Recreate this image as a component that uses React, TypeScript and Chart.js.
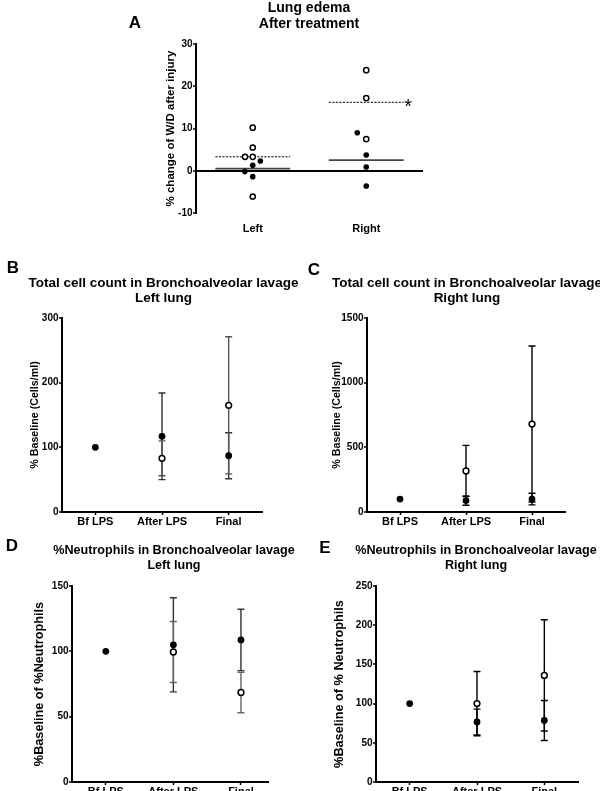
import React, { useEffect, useRef } from 'react';
import { Chart, registerables } from 'chart.js';

Chart.register(...registerables);

const FONT = 'Arial, "Liberation Sans", Helvetica, sans-serif';
const PAGE_W = 600;
const PAGE_H = 791;

// ---------- Panel A: lung edema ----------
const edemaCategories = ['Left', 'Right'];
const edemaLeftOpen = [10.2, 5.5, 3.3, 3.3, -6.1];
const edemaLeftOpenJitter = [0, 0, -0.068, 0, 0];
const edemaLeftFilled = [2.3, 1.3, -0.2, -1.4];
const edemaLeftFilledJitter = [0.067, 0, -0.07, 0];
const edemaRightOpen = [23.8, 17.2, 7.5];
const edemaRightOpenJitter = [0, 0, 0];
const edemaRightFilled = [9.0, 3.7, 0.9, -3.6];
const edemaRightFilledJitter = [-0.079, 0, 0, 0];
const edemaOpenMeans = [3.3, 16.2];
const edemaFilledMeans = [0.5, 2.5];
const edemaSignificance = ['', '*'];

// ---------- Time-course panels ----------
const timeCategories = ['Bf LPS', 'After LPS', 'Final'];

// B: total cell count, left lung
const cellLeftFilled = [100, 117, 87];
const cellLeftFilledErr = [0, 67, 35.5];
const cellLeftOpen = [null, 83, 165];
const cellLeftOpenErr = [null, 27, 106];

// C: total cell count, right lung
const cellRightFilled = [100, 88, 100];
const cellRightFilledErr = [0, 36, 45];
const cellRightOpen = [null, 317, 680];
const cellRightOpenErr = [null, 198, 603];

// D: neutrophils, left lung
const neutLeftFilled = [100, 105, 108.7];
const neutLeftFilledErr = [0, 36, 23.5];
const neutLeftOpen = [null, 99.5, 68.5];
const neutLeftOpenErr = [null, 23.3, 15.5];

// E: neutrophils, right lung
const neutRightFilled = [100, 76.5, 78.5];
const neutRightFilledErr = [0, 16.5, 25.5];
const neutRightOpen = [null, 100, 136];
const neutRightOpenErr = [null, 41, 71];

type Area = { left: number; top: number; right: number; bottom: number };

interface PanelSpec {
  area: Area;
  yTitle: string;
  yTitleX: number;
  yTitleSize: number;
  yMin: number;
  yMax: number;
  yStep: number;
  xMin: number;
  xMax: number;
  categories: string[];
  xLabelPadding: number;
  xAxisLine: boolean;
  zeroLine: boolean;
  datasets: any[];
  plugins: any[];
}

function buildConfig(p: PanelSpec): any {
  const lh = p.yTitleSize * 1.2;
  const padLeft = p.yTitleX - lh / 2;
  const yWidth = p.area.left - padLeft;
  const xHeight = PAGE_H - p.area.bottom;
  return {
    type: 'scatter',
    data: { datasets: p.datasets },
    plugins: p.plugins,
    options: {
      animation: false,
      responsive: false,
      events: [],
      layout: {
        padding: { left: padLeft, top: p.area.top, right: PAGE_W - p.area.right, bottom: 0 },
      },
      plugins: { legend: { display: false }, tooltip: { enabled: false }, title: { display: false } },
      scales: {
        x: {
          type: 'linear',
          min: p.xMin,
          max: p.xMax,
          afterBuildTicks: (s: any) => {
            s.ticks = p.categories.map((_, i) => ({ value: i }));
          },
          afterFit: (s: any) => {
            s.height = xHeight;
          },
          ticks: {
            callback: (v: any) => p.categories[v] ?? '',
            font: { family: FONT, size: 11, weight: 'bold' },
            color: '#000',
            padding: p.xLabelPadding,
            maxRotation: 0,
            minRotation: 0,
            autoSkip: false,
          },
          grid: {
            display: p.xAxisLine,
            drawOnChartArea: false,
            drawTicks: p.xAxisLine,
            tickLength: 3,
            tickColor: '#000',
            tickWidth: 1.5,
          },
          border: { display: p.xAxisLine, color: '#000', width: 2 },
        },
        y: {
          type: 'linear',
          min: p.yMin,
          max: p.yMax,
          afterFit: (s: any) => {
            s.width = yWidth;
          },
          ticks: {
            stepSize: p.yStep,
            callback: (v: any) => String(v),
            font: { family: FONT, size: 10, weight: 'bold' },
            color: '#000',
            padding: 0.5,
          },
          grid: {
            drawOnChartArea: p.zeroLine,
            drawTicks: true,
            tickLength: 3,
            tickColor: '#000',
            tickWidth: 1.5,
            lineWidth: 2,
            color: (ctx: any) => (ctx.tick && ctx.tick.value === 0 ? '#000' : 'rgba(0,0,0,0)'),
          },
          border: { display: true, color: '#000', width: 2 },
          title: {
            display: true,
            text: p.yTitle,
            font: { family: FONT, size: p.yTitleSize, weight: 'bold' },
            color: '#000',
            padding: 0,
          },
        },
      },
    },
  };
}

const openStyle = (r: number) => ({
  pointRadius: r,
  pointHoverRadius: r,
  pointBackgroundColor: '#fff',
  pointBorderColor: '#000',
  pointBorderWidth: 1.5,
  showLine: false,
});
const filledStyle = (r: number) => ({
  pointRadius: r,
  pointHoverRadius: r,
  pointBackgroundColor: '#000',
  pointBorderColor: '#000',
  pointBorderWidth: 0,
  showLine: false,
});

function errorBarsPlugin(
  bars: { means: (number | null)[]; errs: (number | null)[]; color: string }[]
) {
  return {
    id: 'errorBars',
    beforeDatasetsDraw(chart: any) {
      const { ctx } = chart;
      const x = chart.scales.x;
      const y = chart.scales.y;
      ctx.save();
      ctx.lineWidth = 1.4;
      bars.forEach((b) => {
        ctx.strokeStyle = b.color;
        b.means.forEach((m, i) => {
          const e = b.errs[i];
          if (m == null || e == null || e === 0) return;
          const px = x.getPixelForValue(i);
          const top = y.getPixelForValue(m + e);
          const bot = y.getPixelForValue(m - e);
          ctx.beginPath();
          ctx.moveTo(px, top);
          ctx.lineTo(px, bot);
          ctx.moveTo(px - 3.5, top);
          ctx.lineTo(px + 3.5, top);
          ctx.moveTo(px - 3.5, bot);
          ctx.lineTo(px + 3.5, bot);
          ctx.stroke();
        });
      });
      ctx.restore();
    },
  };
}

function timeDatasets(filled: (number | null)[], open: (number | null)[]) {
  const toPts = (vals: (number | null)[]) =>
    vals.map((y, i) => (y == null ? null : { x: i, y })).filter((d) => d !== null);
  return [
    { type: 'scatter', data: toPts(open), ...openStyle(2.9) },
    { type: 'scatter', data: toPts(filled), ...filledStyle(3.4) },
  ];
}

function edemaConfig() {
  const pts = (vals: number[], jit: number[], cat: number) =>
    vals.map((y, k) => ({ x: cat + jit[k], y }));
  const meanLine = (i: number, m: number, dashed: boolean) => ({
    type: 'line',
    data: [
      { x: i - 0.33, y: m },
      { x: i + 0.33, y: m },
    ],
    borderColor: dashed ? '#000' : '#444',
    borderWidth: dashed ? 1 : 1.8,
    borderDash: dashed ? [2.2, 1.3] : [],
    pointRadius: 0,
    pointHoverRadius: 0,
    fill: false,
  });
  const significance = {
    id: 'significance',
    afterDatasetsDraw(chart: any) {
      const { ctx } = chart;
      const x = chart.scales.x;
      const y = chart.scales.y;
      ctx.save();
      ctx.font = `20px ${FONT}`;
      ctx.fillStyle = '#000';
      ctx.textAlign = 'center';
      ctx.textBaseline = 'alphabetic';
      edemaSignificance.forEach((s, i) => {
        if (!s) return;
        ctx.fillText(s, x.getPixelForValue(i + 0.37), y.getPixelForValue(edemaOpenMeans[i]) + 11);
      });
      ctx.restore();
    },
  };
  return buildConfig({
    area: { left: 196, top: 44, right: 423, bottom: 213 },
    yTitle: '% change of W/D after injury',
    yTitleX: 171,
    yTitleSize: 11.5,
    yMin: -10,
    yMax: 30,
    yStep: 10,
    xMin: -0.5,
    xMax: 1.5,
    categories: edemaCategories,
    xLabelPadding: 9.4,
    xAxisLine: false,
    zeroLine: true,
    datasets: [
      {
        type: 'scatter',
        data: pts(edemaLeftOpen, edemaLeftOpenJitter, 0).concat(
          pts(edemaRightOpen, edemaRightOpenJitter, 1)
        ),
        ...openStyle(2.6),
      },
      {
        type: 'scatter',
        data: pts(edemaLeftFilled, edemaLeftFilledJitter, 0).concat(
          pts(edemaRightFilled, edemaRightFilledJitter, 1)
        ),
        ...filledStyle(2.8),
      },
      ...edemaOpenMeans.map((m, i) => meanLine(i, m, true)),
      ...edemaFilledMeans.map((m, i) => meanLine(i, m, false)),
    ],
    plugins: [significance],
  });
}

function timeConfig(
  area: Area,
  yTitle: string,
  yTitleX: number,
  yTitleSize: number,
  yMax: number,
  yStep: number,
  xMax: number,
  filled: (number | null)[],
  filledErr: (number | null)[],
  open: (number | null)[],
  openErr: (number | null)[],
  filledColor: string,
  openColor: string
) {
  return buildConfig({
    area,
    yTitle,
    yTitleX,
    yTitleSize,
    yMin: 0,
    yMax,
    yStep,
    xMin: -0.5,
    xMax,
    categories: timeCategories,
    xLabelPadding: 0,
    xAxisLine: true,
    zeroLine: false,
    datasets: timeDatasets(filled, open),
    plugins: [
      errorBarsPlugin([
        { means: filled, errs: filledErr, color: filledColor },
        { means: open, errs: openErr, color: openColor },
      ]),
    ],
  });
}

const panelConfigs: (() => any)[] = [
  edemaConfig,
  () =>
    timeConfig(
      { left: 62, top: 318, right: 262, bottom: 512 },
      '% Baseline (Cells/ml)', 35, 10.7, 300, 100, 2.5,
      cellLeftFilled, cellLeftFilledErr, cellLeftOpen, cellLeftOpenErr, '#333', '#555'
    ),
  () =>
    timeConfig(
      { left: 367, top: 318, right: 565, bottom: 512 },
      '% Baseline (Cells/ml)', 337.5, 10.7, 1500, 500, 2.5,
      cellRightFilled, cellRightFilledErr, cellRightOpen, cellRightOpenErr, '#000', '#000'
    ),
  () =>
    timeConfig(
      { left: 72, top: 586, right: 268, bottom: 782 },
      '%Baseline of %Neutrophils', 39.3, 12.7, 150, 50, 2.4,
      neutLeftFilled, neutLeftFilledErr, neutLeftOpen, neutLeftOpenErr, '#333', '#666'
    ),
  () =>
    timeConfig(
      { left: 376, top: 586, right: 578, bottom: 782 },
      '%Baseline of % Neutrophils', 339.3, 12.7, 250, 50, 2.5,
      neutRightFilled, neutRightFilledErr, neutRightOpen, neutRightOpenErr, '#000', '#000'
    ),
];

function ChartLayer({ make }: { make: () => any }) {
  const ref = useRef<HTMLCanvasElement>(null);
  useEffect(() => {
    if (!ref.current) return;
    const chart = new Chart(ref.current, make());
    return () => chart.destroy();
  }, [make]);
  return (
    <canvas
      ref={ref}
      width={PAGE_W}
      height={PAGE_H}
      style={{ position: 'absolute', left: 0, top: 0, width: PAGE_W, height: PAGE_H }}
    />
  );
}

function Label({ text, cx, cy, size }: { text: string; cx: number; cy: number; size: number }) {
  const lh = size * 1.2;
  return (
    <div
      style={{
        position: 'absolute',
        left: cx - 250,
        width: 500,
        top: cy - lh / 2,
        height: lh,
        lineHeight: `${lh}px`,
        fontSize: size,
        fontWeight: 'bold',
        fontFamily: FONT,
        textAlign: 'center',
        whiteSpace: 'nowrap',
        color: '#000',
      }}
    >
      {text}
    </div>
  );
}

const panelLetters: [string, number, number][] = [
  ['A', 135, 23],
  ['B', 13, 268],
  ['C', 314, 270],
  ['D', 12, 546],
  ['E', 325, 548],
];

const panelTitles: { lines: string[]; cx: number; cy: number[]; size: number }[] = [
  { lines: ['Lung edema', 'After treatment'], cx: 309, cy: [7, 23], size: 14 },
  { lines: ['Total cell count in Bronchoalveolar lavage', 'Left lung'], cx: 163.5, cy: [283, 298], size: 13.5 },
  { lines: ['Total cell count in Bronchoalveolar lavage', 'Right lung'], cx: 467, cy: [283, 298], size: 13.5 },
  { lines: ['%Neutrophils in Bronchoalveolar lavage', 'Left lung'], cx: 174, cy: [551, 566], size: 12.6 },
  { lines: ['%Neutrophils in Bronchoalveolar lavage', 'Right lung'], cx: 476, cy: [551, 566], size: 12.6 },
];

export default function App() {
  return (
    <div
      style={{
        position: 'absolute',
        left: 0,
        top: 0,
        width: PAGE_W,
        height: PAGE_H,
        overflow: 'hidden',
        background: '#fff',
      }}
    >
      {panelConfigs.map((make, i) => (
        <ChartLayer key={i} make={make} />
      ))}
      {panelTitles.map((t, i) =>
        t.lines.map((line, j) => (
          <Label key={`t${i}-${j}`} text={line} cx={t.cx} cy={t.cy[j]} size={t.size} />
        ))
      )}
      {panelLetters.map(([l, x, y]) => (
        <Label key={l} text={l} cx={x} cy={y} size={17} />
      ))}
    </div>
  );
}
